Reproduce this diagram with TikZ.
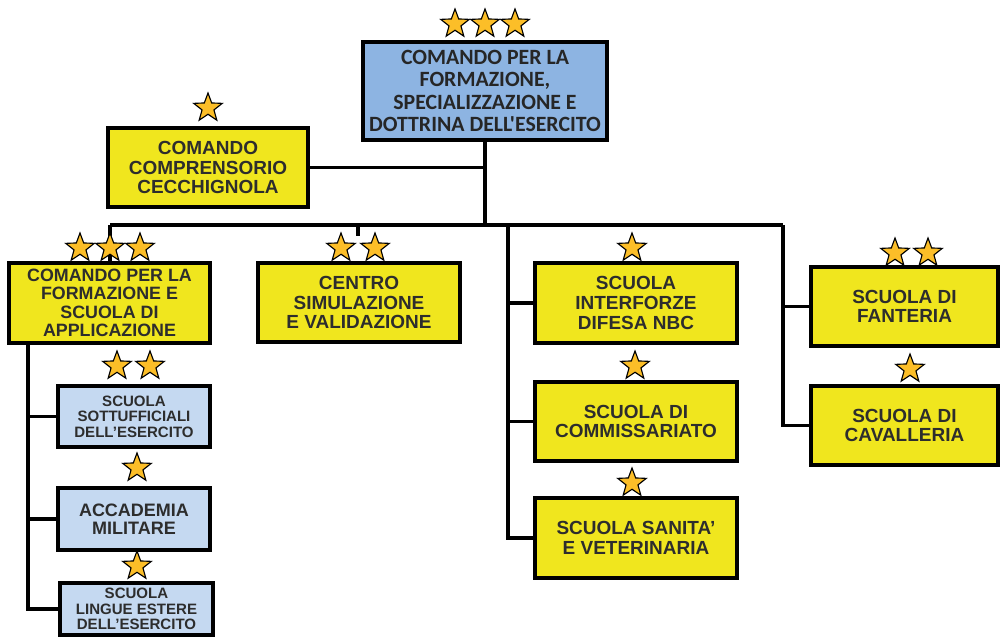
\documentclass[tikz,border=0pt]{standalone}
\usepackage{fontspec}
\setmainfont{Liberation Sans}
\newfontfamily\calibfont{Carlito}
\usetikzlibrary{shapes.geometric}
\definecolor{boxyellow}{RGB}{240,230,30}
\definecolor{topblue}{RGB}{141,180,226}
\definecolor{paleblue}{RGB}{197,217,241}
\definecolor{stargold}{RGB}{252,190,40}
\definecolor{textgrey}{RGB}{45,45,45}

\begin{document}
\begin{tikzpicture}[x=0.025cm, y=-0.025cm, line width=2.4pt,
  unit/.style = {shape=rectangle, draw, line width=2.8pt, align=center, inner sep=0pt,
    text=textgrey, font=\bfseries\fontsize{13.5}{14}\selectfont},
  yellowunit/.style = {unit, fill=boxyellow, minimum width=5.05cm, minimum height=2cm},
  blueunit/.style = {unit, fill=paleblue, minimum width=3.8cm, minimum height=1.525cm,
    font=\bfseries\fontsize{10.7}{10.9}\selectfont},
  rank/.style = {star, star points=5, star point ratio=2.4, draw, line width=0.8pt,
    fill=stargold, minimum size=0.75cm, inner sep=0pt}]
  \useasboundingbox (0,0) rectangle (1001,640);

  \node[unit, fill=topblue, minimum width=6.1cm, minimum height=2.45cm, text=black!85,
    font=\calibfont\bfseries\fontsize{15.5}{15.8}\selectfont] (cmdfsde) at (485,91)
    {COMANDO PER LA\\FORMAZIONE,\\SPECIALIZZAZIONE E\\DOTTRINA DELL'ESERCITO};
  \node[yellowunit, minimum width=5cm, minimum height=1.975cm] (cecch) at (208,167.5)
    {COMANDO\\COMPRENSORIO\\CECCHIGNOLA};

  \node[yellowunit, minimum width=5.025cm, font=\bfseries\fontsize{12.7}{13.2}\selectfont] (cfsa) at (109.5,303)
    {COMANDO PER LA\\FORMAZIONE E\\SCUOLA DI\\APPLICAZIONE};
  \node[yellowunit, minimum height=1.975cm] (csv) at (359,302.5)
    {CENTRO\\SIMULAZIONE\\E VALIDAZIONE};
  \node[yellowunit] (nbc) at (636,303) {SCUOLA\\INTERFORZE\\DIFESA NBC};
  \node[yellowunit, minimum height=1.975cm] (comm) at (636,421.5) {SCUOLA DI\\COMMISSARIATO};
  \node[yellowunit] (sanita) at (636,538) {SCUOLA SANITA'\\E VETERINARIA};
  \node[yellowunit, minimum width=4.675cm, minimum height=1.975cm] (fant) at (904.5,306.5)
    {SCUOLA DI\\FANTERIA};
  \node[yellowunit, minimum width=4.675cm, minimum height=1.975cm] (cav) at (904.5,425.5)
    {SCUOLA DI\\CAVALLERIA};

  \node[blueunit] (ssu) at (134,416.5) {SCUOLA\\SOTTUFFICIALI\\DELL'ESERCITO};
  \node[blueunit, minimum height=1.55cm, font=\bfseries\fontsize{12.8}{13}\selectfont] (acc) at (134,519)
    {ACCADEMIA\\MILITARE};
  \node[blueunit, minimum width=3.825cm, minimum height=1.3cm] (lingue) at (136.5,609)
    {SCUOLA\\LINGUE ESTERE\\DELL'ESERCITO};

  % connectors
  \coordinate (bus) at (485,225);
  \coordinate (busL) at (110,225);
  \coordinate (busR) at (783,225);
  \coordinate (midtap) at (508,225);
  \coordinate (csvtop) at (358,236);
  \coordinate (lefttap) at (28,343);
  \draw[line width=3.4pt] (cmdfsde.south) -- (bus);
  \draw (cecch.east) -- (cecch.east -| bus);
  \draw (busL) -- (busR);
  \draw (busL) -- (busL |- cfsa.north);
  \draw (csvtop |- bus) -- (csvtop);
  \draw (midtap) |- (sanita.west);
  \draw (midtap |- nbc.west) -- (nbc.west);
  \draw (midtap |- comm.west) -- (comm.west);
  \draw (busR) |- (cav.west);
  \draw (busR |- fant.west) -- (fant.west);
  \draw (lefttap) |- (lingue.west);
  \draw (lefttap |- ssu.west) -- (ssu.west);
  \draw (lefttap |- acc.west) -- (acc.west);

  % stars
  \foreach \sx/\sy [count=\i] in {455/24, 485/24, 515/24, 208/108,
      80/248, 110/248, 140/248, 341/248, 375/248, 632/248, 635/366, 632/483,
      895/253, 928/253, 910/369, 117/366, 150/366, 137/468, 137/566}
    \node[rank] (rank\i) at (\sx,\sy) {};
\end{tikzpicture}
\end{document}
